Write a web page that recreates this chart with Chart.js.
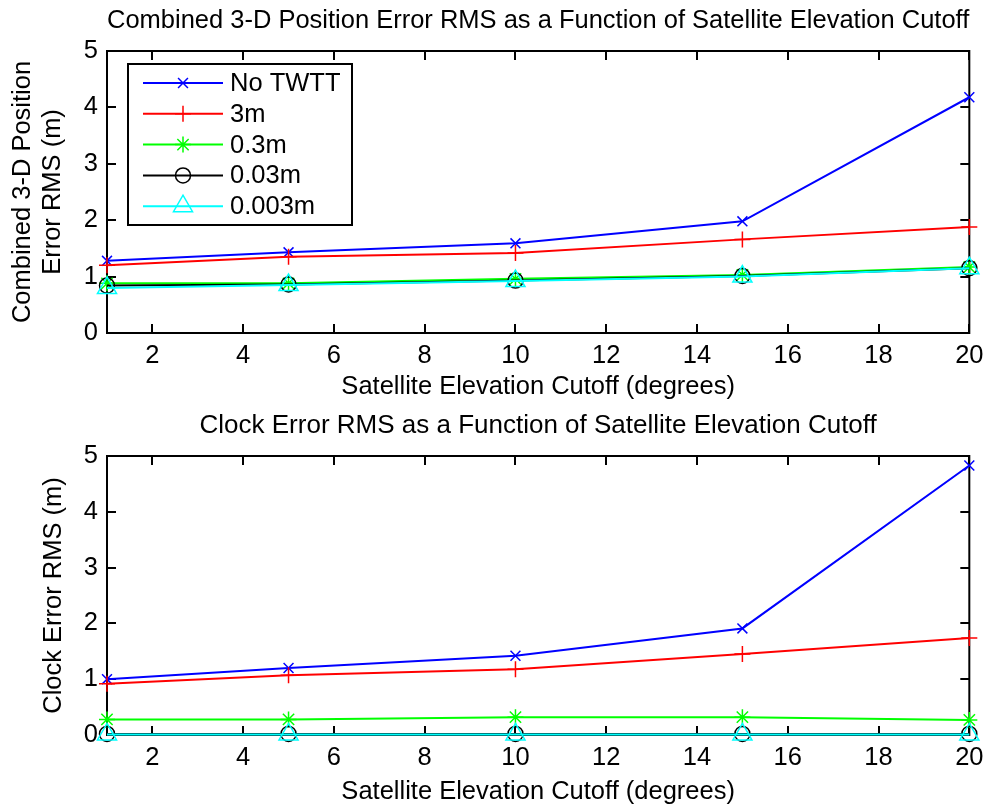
<!DOCTYPE html>
<html>
<head>
<meta charset="utf-8">
<script src="https://cdn.jsdelivr.net/npm/chart.js@4.4.0/dist/chart.umd.min.js"></script>
<style>
  body { margin: 0; background: #fff; }
  #posBox { position: absolute; left: 0; top: 0; width: 991px; height: 400px; }
  #clkBox { position: absolute; left: 0; top: 400px; width: 991px; height: 408px; }
</style>
</head>
<body>
<div id="posBox"><canvas id="posChart"></canvas></div>
<div id="clkBox"><canvas id="clkChart"></canvas></div>
<script>
// elevation cutoffs (degrees)
const cutoffs = [1, 5, 10, 15, 20];
const xTicks = [2, 4, 6, 8, 10, 12, 14, 16, 18, 20];
const yTicks = [0, 1, 2, 3, 4, 5];

const seriesNames = ['No TWTT', '3m', '0.3m', '0.03m', '0.003m'];
const seriesColors = ['#0000ff', '#ff0000', '#00ff00', '#000000', '#00ffff'];
const seriesMarkers = ['crossRot', 'cross', 'star', 'circle', 'triangle'];
const markerSizes = [7, 8, 8, 7.5, 11];

// combined 3-D position error RMS (m)
const posNoTwtt = [1.28, 1.43, 1.59, 1.98, 4.18];
const pos3m     = [1.20, 1.35, 1.42, 1.66, 1.88];
const pos03m    = [0.88, 0.88, 0.96, 1.03, 1.17];
const pos003m   = [0.84, 0.86, 0.93, 1.01, 1.15];
const pos0003m  = [0.80, 0.85, 0.92, 1.00, 1.15];

// clock error RMS (m)
const clkNoTwtt = [1.00, 1.20, 1.42, 1.91, 4.83];
const clk3m     = [0.92, 1.07, 1.18, 1.45, 1.74];
const clk03m    = [0.28, 0.28, 0.32, 0.32, 0.27];
const clk003m   = [0.02, 0.02, 0.02, 0.02, 0.02];
const clk0003m  = [0.01, 0.01, 0.01, 0.01, 0.01];

const FONT = 'Arial, "Liberation Sans", Helvetica, sans-serif';
const TXT = 25.5;

// axes box with inward ticks on all four sides
const boxTicks = {
  id: 'boxTicks',
  beforeDatasetsDraw(chart) {
    const {ctx, chartArea: a, scales} = chart;
    const len = 9;
    ctx.save();
    ctx.strokeStyle = '#000';
    ctx.lineWidth = 2;
    ctx.strokeRect(a.left, a.top, a.right - a.left, a.bottom - a.top);
    ctx.beginPath();
    xTicks.forEach(v => {
      const px = Math.round(scales.x.getPixelForValue(v));
      ctx.moveTo(px, a.bottom); ctx.lineTo(px, a.bottom - len);
      ctx.moveTo(px, a.top); ctx.lineTo(px, a.top + len);
    });
    yTicks.forEach(v => {
      const py = Math.round(scales.y.getPixelForValue(v));
      ctx.moveTo(a.left, py); ctx.lineTo(a.left + len, py);
      ctx.moveTo(a.right, py); ctx.lineTo(a.right - len, py);
    });
    ctx.stroke();
    ctx.restore();
  }
};

function drawMarker(ctx, style, r, x, y) {
  ctx.beginPath();
  if (style === 'crossRot') {
    const d = r * Math.SQRT1_2;
    ctx.moveTo(x - d, y - d); ctx.lineTo(x + d, y + d);
    ctx.moveTo(x - d, y + d); ctx.lineTo(x + d, y - d);
  } else if (style === 'cross') {
    ctx.moveTo(x - r, y); ctx.lineTo(x + r, y);
    ctx.moveTo(x, y - r); ctx.lineTo(x, y + r);
  } else if (style === 'star') {
    const d = r * Math.SQRT1_2;
    ctx.moveTo(x - r, y); ctx.lineTo(x + r, y);
    ctx.moveTo(x, y - r); ctx.lineTo(x, y + r);
    ctx.moveTo(x - d, y - d); ctx.lineTo(x + d, y + d);
    ctx.moveTo(x - d, y + d); ctx.lineTo(x + d, y - d);
  } else if (style === 'circle') {
    ctx.arc(x, y, r, 0, Math.PI * 2);
  } else if (style === 'triangle') {
    const h = r * Math.sin(Math.PI / 3);
    ctx.moveTo(x - h, y + r / 2);
    ctx.lineTo(x + h, y + r / 2);
    ctx.lineTo(x, y - r);
    ctx.closePath();
  }
  ctx.stroke();
}

// boxed legend in the upper left of the position plot
const boxLegend = {
  id: 'boxLegend',
  afterDatasetsDraw(chart) {
    const {ctx} = chart;
    const bx = 128, by = 64, bw = 224, bh = 161;
    ctx.save();
    ctx.fillStyle = '#fff';
    ctx.fillRect(bx, by, bw, bh);
    ctx.strokeStyle = '#000';
    ctx.lineWidth = 2;
    ctx.strokeRect(bx, by, bw, bh);
    ctx.font = TXT + 'px ' + FONT;
    ctx.textBaseline = 'middle';
    ctx.textAlign = 'left';
    seriesNames.forEach((name, i) => {
      const y = 83 + i * 30.8;
      ctx.strokeStyle = seriesColors[i];
      ctx.lineWidth = 2;
      ctx.beginPath();
      ctx.moveTo(143, y); ctx.lineTo(223, y);
      ctx.stroke();
      ctx.lineWidth = 1.5;
      drawMarker(ctx, seriesMarkers[i], markerSizes[i], 183, y);
      ctx.fillStyle = '#000';
      ctx.fillText(name, 230, y + 1);
    });
    ctx.restore();
  }
};

function makeChart(id, title, yTitle, series, g, extra) {
  const font = {family: FONT, size: TXT, weight: 'normal'};
  return new Chart(document.getElementById(id), {
    type: 'line',
    data: {
      datasets: series.map((vals, i) => ({
        label: seriesNames[i],
        data: cutoffs.map((x, j) => ({x: x, y: vals[j]})),
        borderColor: seriesColors[i],
        backgroundColor: 'rgba(0,0,0,0)',
        borderWidth: 2,
        pointStyle: seriesMarkers[i],
        pointRadius: markerSizes[i],
        pointBorderColor: seriesColors[i],
        pointBackgroundColor: 'rgba(0,0,0,0)',
        pointBorderWidth: 1.5,
        tension: 0,
        clip: false,
        order: -i
      }))
    },
    options: {
      responsive: true,
      maintainAspectRatio: false,
      animation: false,
      events: [],
      layout: {padding: {left: 0, right: 14, top: 0, bottom: 0}},
      plugins: {
        legend: {display: false},
        tooltip: {enabled: false},
        title: {
          display: true, text: title, color: '#000', fullSize: false,
          font: {family: FONT, size: 26, weight: 'normal', lineHeight: 1.2},
          padding: {top: g.titleTop, bottom: g.titleBottom}
        }
      },
      scales: {
        x: {
          type: 'linear', min: 1, max: 20,
          afterBuildTicks: s => { s.ticks = xTicks.map(v => ({value: v})); },
          afterFit: s => { s.height = g.xHeight; },
          grid: {display: false, drawTicks: false}, border: {display: false},
          ticks: {color: '#000', font: font, padding: 7.5, maxRotation: 0, autoSkip: false},
          title: {
            display: true, text: 'Satellite Elevation Cutoff (degrees)', color: '#000',
            font: {family: FONT, size: TXT, weight: 'normal', lineHeight: 1},
            padding: {top: 0, bottom: g.xTitlePad}
          }
        },
        y: {
          type: 'linear', min: 0, max: 5,
          afterBuildTicks: s => { s.ticks = yTicks.map(v => ({value: v})); },
          afterFit: s => { s.width = 107; },
          grid: {display: false, drawTicks: false}, border: {display: false},
          ticks: {color: '#000', font: font, padding: 9},
          title: {
            display: true, text: yTitle, color: '#000',
            font: {family: FONT, size: TXT, weight: 'normal', lineHeight: 1.18},
            padding: {top: g.yTitlePad, bottom: 0}
          }
        }
      }
    },
    plugins: [boxTicks].concat(extra)
  });
}

makeChart('posChart',
  'Combined 3-D Position Error RMS as a Function of Satellite Elevation Cutoff',
  ['Combined 3-D Position', 'Error RMS (m)'],
  [posNoTwtt, pos3m, pos03m, pos003m, pos0003m],
  {titleTop: 5.4, titleBottom: 14.4, xHeight: 67, xTitlePad: 0, yTitlePad: 8},
  [boxLegend]);

makeChart('clkChart',
  'Clock Error RMS as a Function of Satellite Elevation Cutoff',
  'Clock Error RMS (m)',
  [clkNoTwtt, clk3m, clk03m, clk003m, clk0003m],
  {titleTop: 10.4, titleBottom: 14.4, xHeight: 73, xTitlePad: 3.2, yTitlePad: 39},
  []);
</script>
</body>
</html>
